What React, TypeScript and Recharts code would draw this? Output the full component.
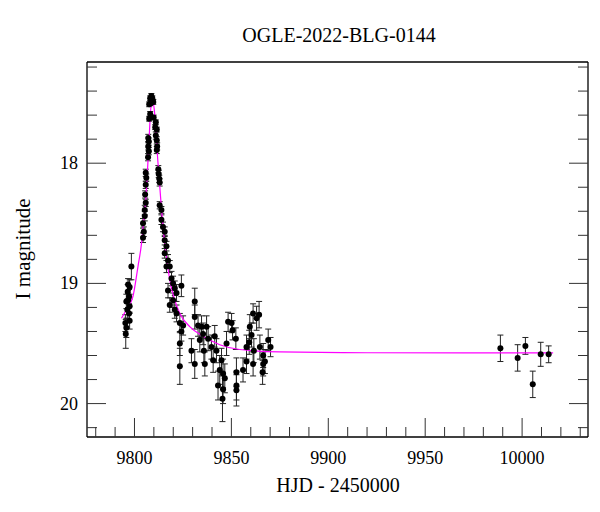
import React from "react";
import { ComposedChart, Scatter, Line, XAxis, YAxis, ErrorBar } from "recharts";

// OGLE photometry: HJD - 2450000, I magnitude, error
const hjd = [
  9795.3, 9795.5, 9795.8, 9795.8, 9796.3, 9796.5, 9796.7, 9796.7, 9797.2, 9797.2,
  9797.5, 9797.5, 9797.5, 9798.4, 9804.4, 9804.4, 9804.8, 9805.3, 9805.3, 9805.5,
  9805.8, 9805.8, 9805.8, 9806.1, 9807.0, 9807.1, 9807.1, 9807.4, 9807.4, 9807.6,
  9807.6, 9808.1, 9808.1, 9808.4, 9808.7, 9809.2, 9809.7, 9809.9, 9810.7, 9811.0,
  9811.0, 9811.5, 9811.5, 9811.5, 9811.7, 9812.3, 9812.5, 9812.8, 9813.0, 9813.0,
  9813.9, 9813.9, 9814.7, 9815.6, 9815.6, 9815.6, 9816.5, 9816.5, 9817.3, 9817.3,
  9818.2, 9818.2, 9819.1, 9819.9, 9819.9, 9820.8, 9820.8, 9821.7, 9821.7, 9823.4,
  9823.4, 9823.4, 9824.2, 9824.2, 9825.1, 9829.4, 9831.1, 9831.1, 9831.1, 9832.8,
  9833.7, 9834.6, 9835.4, 9835.8, 9836.3, 9837.2, 9838.0, 9839.7, 9840.6, 9841.4,
  9842.3, 9843.1, 9844.0, 9844.9, 9845.4, 9845.7, 9845.7, 9846.6, 9847.5, 9848.3,
  9850.1, 9850.6, 9852.3, 9852.6, 9852.6, 9852.6, 9856.0, 9857.8, 9857.8, 9859.2,
  9859.5, 9860.4, 9861.2, 9861.2, 9861.6, 9863.0, 9864.3, 9864.7, 9866.1, 9866.4,
  9866.4, 9867.3, 9869.0, 9870.2, 9988.8, 9997.7, 10001.7, 10005.5, 10009.6, 10013.7,
];
const mag = [
  19.33, 19.42, 19.37, 19.15, 19.22, 19.07, 19.14, 19.01, 19.25, 19.11,
  19.31, 19.19, 19.03, 18.86, 18.62, 18.50, 18.57, 18.44, 18.39, 18.26,
  18.33, 18.18, 18.08, 18.12, 17.95, 17.86, 17.79, 17.90, 17.82, 17.63,
  17.51, 17.59, 17.46, 17.50, 17.44, 17.46, 17.49, 17.62, 17.70, 17.66,
  17.77, 17.72, 17.81, 17.89, 17.86, 18.05, 18.09, 18.13, 18.16, 18.35,
  18.39, 18.47, 18.53, 18.57, 18.64, 18.75, 18.69, 18.86, 18.81, 19.06,
  18.86, 19.18, 18.96, 19.00, 19.14, 19.04, 19.22, 19.08, 19.25, 19.33,
  19.50, 19.69, 19.02, 19.40, 19.35, 19.56, 19.15, 19.28, 19.67, 19.35,
  19.47, 19.36, 19.42, 19.56, 19.67, 19.36, 19.46, 19.53, 19.64, 19.44,
  19.56, 19.85, 19.72, 19.64, 19.96, 19.75, 19.88, 19.79, 19.50, 19.32,
  19.33, 19.39, 19.46, 19.74, 19.85, 19.89, 19.72, 19.65, 19.53, 19.49,
  19.36, 19.43, 19.25, 19.67, 19.56, 19.29, 19.26, 19.53, 19.74, 19.60,
  19.67, 19.65, 19.47, 19.53, 19.54, 19.62, 19.52, 19.84, 19.59, 19.59,
];
const magErr = [
  0.07, 0.12, 0.08, 0.06, 0.07, 0.06, 0.06, 0.05, 0.07, 0.06,
  0.07, 0.06, 0.06, 0.11, 0.04, 0.04, 0.04, 0.04, 0.04, 0.03,
  0.03, 0.03, 0.03, 0.03, 0.03, 0.03, 0.03, 0.03, 0.03, 0.02,
  0.02, 0.02, 0.02, 0.02, 0.02, 0.02, 0.02, 0.02, 0.02, 0.02,
  0.03, 0.02, 0.03, 0.03, 0.03, 0.03, 0.03, 0.03, 0.03, 0.03,
  0.03, 0.04, 0.04, 0.04, 0.04, 0.04, 0.04, 0.05, 0.05, 0.06,
  0.05, 0.06, 0.06, 0.06, 0.06, 0.06, 0.07, 0.07, 0.07, 0.08,
  0.10, 0.15, 0.09, 0.08, 0.08, 0.10, 0.11, 0.10, 0.12, 0.09,
  0.10, 0.09, 0.09, 0.10, 0.10, 0.09, 0.10, 0.10, 0.10, 0.09,
  0.10, 0.12, 0.12, 0.10, 0.19, 0.12, 0.12, 0.12, 0.10, 0.08,
  0.08, 0.08, 0.09, 0.12, 0.12, 0.13, 0.10, 0.10, 0.10, 0.10,
  0.10, 0.10, 0.08, 0.10, 0.10, 0.10, 0.11, 0.10, 0.10, 0.10,
  0.10, 0.10, 0.09, 0.08, 0.11, 0.11, 0.07, 0.11, 0.10, 0.07,
];

// model light curve
const modelHjd = [
  9793.3, 9795.8, 9799.2, 9801.8, 9803.6, 9804.8, 9805.8, 9807.0, 9807.9, 9809.0,
  9810.5, 9812.0, 9813.6, 9814.7, 9816.5, 9818.2, 9820.8, 9823.4, 9828.5, 9835.4,
  9844.0, 9854.3, 9875.0, 9920.0, 9970.0, 10016.0,
];
const modelMag = [
  19.29, 19.22, 19.11, 18.86, 18.67, 18.47, 18.31, 17.97, 17.68, 17.46,
  17.60, 17.97, 18.31, 18.53, 18.78, 18.97, 19.14, 19.25, 19.36, 19.44,
  19.51, 19.55, 19.57, 19.577, 19.578, 19.578,
];

const xTicks = [
  9780, 9790, 9800, 9810, 9820, 9830, 9840, 9850, 9860, 9870, 9880, 9890, 9900,
  9910, 9920, 9930, 9940, 9950, 9960, 9970, 9980, 9990, 10000, 10010, 10020, 10030,
];
const xLabels = [9800, 9850, 9900, 9950, 10000];
const yTicks = [
  17.2, 17.4, 17.6, 17.8, 18.0, 18.2, 18.4, 18.6, 18.8, 19.0, 19.2, 19.4, 19.6,
  19.8, 20.0, 20.2,
];
const yLabels = [18, 19, 20];

const points = hjd.map((t, i) => ({ t, m: mag[i], e: magErr[i] }));
const model = modelHjd.map((t, i) => ({ t, m: modelMag[i] }));

const FONT = '"Liberation Serif", "DejaVu Serif", serif';
const TICK = "#333";
const MAJOR = 19;
const MINOR = 10;

const isMajor = (v: number, list: number[]) => list.some((l) => Math.abs(l - v) < 1e-6);

function BottomTick({ x, y, payload }: any) {
  const major = isMajor(payload.value, xLabels);
  return (
    <g>
      <line x1={x} y1={y} x2={x} y2={y - (major ? MAJOR : MINOR)} stroke={TICK} />
      {major && (
        <text x={x} y={y + 27} textAnchor="middle" fontSize={18} fontFamily={FONT} fill="#000">
          {payload.value}
        </text>
      )}
    </g>
  );
}

function TopTick({ x, y, payload }: any) {
  const major = isMajor(payload.value, xLabels);
  return <line x1={x} y1={y} x2={x} y2={y + (major ? MAJOR : MINOR)} stroke={TICK} />;
}

function LeftTick({ x, y, payload }: any) {
  const major = isMajor(payload.value, yLabels);
  return (
    <g>
      <line x1={x} y1={y} x2={x + (major ? MAJOR : MINOR)} y2={y} stroke={TICK} />
      {major && (
        <text x={x - 9} y={y + 6} textAnchor="end" fontSize={18} fontFamily={FONT} fill="#000">
          {Math.round(payload.value)}
        </text>
      )}
    </g>
  );
}

function RightTick({ x, y, payload }: any) {
  const major = isMajor(payload.value, yLabels);
  return <line x1={x} y1={y} x2={x - (major ? MAJOR : MINOR)} y2={y} stroke={TICK} />;
}

const Dot = (p: any) => <circle cx={p.cx} cy={p.cy} r={3} fill="#000" />;

export default function App() {
  const xDomain: [number, number] = [9775.5, 10034];
  const yDomain: [number, number] = [17.158, 20.278];
  return (
    <div style={{ position: "absolute", left: 0, top: 0, width: 600, height: 512, background: "#fff" }}>
      <ComposedChart width={600} height={512} margin={{ top: 0, right: 0, bottom: 0, left: 0 }}>
        <XAxis
          xAxisId="b"
          dataKey="t"
          type="number"
          domain={xDomain}
          allowDataOverflow
          ticks={xTicks}
          interval={0}
          height={75}
          tickSize={0}
          tickMargin={0}
          tick={<BottomTick />}
          axisLine={{ stroke: "#000", strokeWidth: 1.3 }}
          tickLine={false}
        />
        <XAxis
          xAxisId="t"
          orientation="top"
          type="number"
          domain={xDomain}
          allowDataOverflow
          ticks={xTicks}
          interval={0}
          height={62}
          tickSize={0}
          tickMargin={0}
          tick={<TopTick />}
          axisLine={{ stroke: "#000", strokeWidth: 1.3 }}
          tickLine={false}
        />
        <YAxis
          yAxisId="l"
          dataKey="m"
          type="number"
          reversed
          domain={yDomain}
          allowDataOverflow
          ticks={yTicks}
          interval={0}
          width={87}
          tickSize={0}
          tickMargin={0}
          tick={<LeftTick />}
          axisLine={{ stroke: "#000", strokeWidth: 1.3 }}
          tickLine={false}
        />
        <YAxis
          yAxisId="r"
          orientation="right"
          type="number"
          reversed
          domain={yDomain}
          allowDataOverflow
          ticks={yTicks}
          interval={0}
          width={12}
          tickSize={0}
          tickMargin={0}
          tick={<RightTick />}
          axisLine={{ stroke: "#000", strokeWidth: 1.3 }}
          tickLine={false}
        />
        <Scatter
          xAxisId="b"
          yAxisId="l"
          data={points}
          dataKey="m"
          shape={Dot}
          isAnimationActive={false}
        >
          <ErrorBar dataKey="e" direction="y" width={3} stroke="#222" strokeWidth={1} />
        </Scatter>
        <Line
          xAxisId="b"
          yAxisId="l"
          data={model}
          dataKey="m"
          type="monotone"
          stroke="#ff00ff"
          strokeWidth={1.2}
          dot={false}
          activeDot={false}
          isAnimationActive={false}
        />
      </ComposedChart>
      <svg
        width={600}
        height={512}
        style={{ position: "absolute", left: 0, top: 0, pointerEvents: "none" }}
      >
        <text x={339} y={42} textAnchor="middle" fontSize={20} fontFamily={FONT} fill="#000">
          OGLE-2022-BLG-0144
        </text>
        <text x={338} y={492} textAnchor="middle" fontSize={20} fontFamily={FONT} fill="#000">
          HJD - 2450000
        </text>
        <text
          transform="translate(30, 249) rotate(-90)"
          textAnchor="middle"
          fontSize={21}
          fontFamily={FONT}
          fill="#000"
        >
          I magnitude
        </text>
      </svg>
    </div>
  );
}
